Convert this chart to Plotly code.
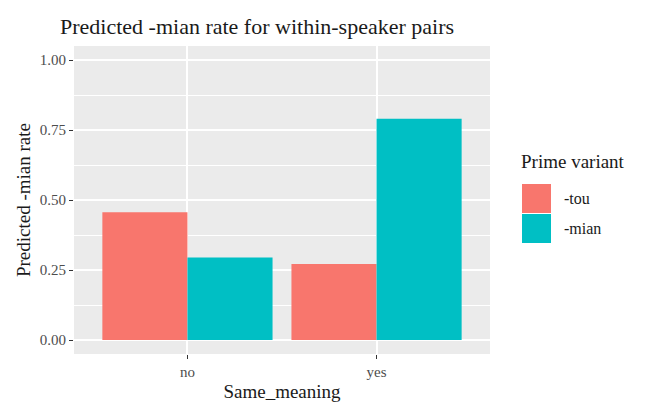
import plotly.graph_objects as go

categories = ["no", "yes"]
variants = ["-tou", "-mian"]
tou_values = [0.456, 0.271]
mian_values = [0.295, 0.790]
colors = ["#F8766D", "#00BFC4"]
y_ticks = [0.0, 0.25, 0.5, 0.75, 1.0]
y_tick_labels = ["0.00", "0.25", "0.50", "0.75", "1.00"]

FONT = "Liberation Serif"

fig = go.Figure()
for name, vals, col in zip(variants, [tou_values, mian_values], colors):
    fig.add_trace(go.Bar(x=categories, y=vals, name=name, marker_color=col,
                         marker_line_width=0, showlegend=False))

fig.update_layout(
    width=645, height=406,
    margin=dict(l=74, r=155, t=46, b=52),
    paper_bgcolor="white", plot_bgcolor="#EBEBEB",
    barmode="group", bargap=0.1, bargroupgap=0,
    font=dict(family=FONT, color="#1A1A1A"),
    title=dict(text="Predicted -mian rate for within-speaker pairs",
               x=60/645, xanchor="left", y=1-34/406, yanchor="bottom",
               font=dict(size=22, color="#1A1A1A", family=FONT)),
)
fig.update_xaxes(
    type="category", range=[-0.6, 1.6], automargin=False,
    showgrid=True, gridcolor="white", gridwidth=1.6,
    ticks="outside", ticklen=4, tickwidth=1.4, tickcolor="#333333",
    tickfont=dict(size=15, color="#4D4D4D", family=FONT),
    title=dict(text="Same_meaning", font=dict(size=19, color="#1A1A1A", family=FONT), standoff=5),
    zeroline=False, showline=False,
)
fig.update_yaxes(
    range=[-0.05, 1.05], automargin=False,
    tickvals=y_ticks, ticktext=y_tick_labels,
    showgrid=True, gridcolor="white", gridwidth=1.6,
    minor=dict(tickvals=[0.125, 0.375, 0.625, 0.875], showgrid=True,
               gridcolor="white", gridwidth=0.8, ticks=""),
    ticks="outside", ticklen=4, tickwidth=1.4, tickcolor="#333333",
    tickfont=dict(size=15, color="#4D4D4D", family=FONT),
    title=dict(text="Predicted -mian rate", font=dict(size=19, color="#1A1A1A", family=FONT), standoff=4),
    zeroline=False, showline=False,
)

# Manual ggplot-style legend
px_w, px_h = 645 - 74 - 155, 406 - 46 - 52
def px2x(px):
    return (px - 74) / px_w
def px2y(py):
    return (406 - 52 - py) / px_h

fig.add_annotation(text="Prime variant", xref="paper", yref="paper",
                   x=px2x(519), y=px2y(161), xanchor="left", yanchor="middle",
                   showarrow=False, font=dict(size=19, color="#1A1A1A", family=FONT))
key_tops = [184, 214]
for name, col, top in zip(variants, colors, key_tops):
    fig.add_shape(type="rect", xref="paper", yref="paper",
                  x0=px2x(522), x1=px2x(551), y0=px2y(top), y1=px2y(top + 29),
                  fillcolor=col, line=dict(width=0))
    fig.add_annotation(text=name, xref="paper", yref="paper",
                       x=px2x(562), y=px2y(top + 14.5), xanchor="left", yanchor="middle",
                       showarrow=False, font=dict(size=16, color="#1A1A1A", family=FONT))

fig.write_html("out.html", config={"displayModeBar": False},
               post_script="document.body.style.margin='0';")
